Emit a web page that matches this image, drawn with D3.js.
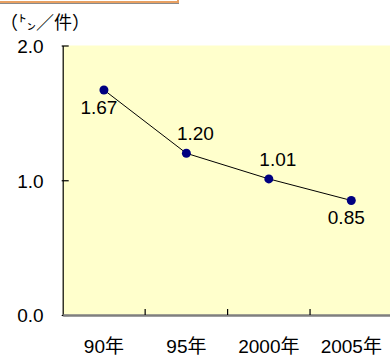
<!DOCTYPE html>
<html>
<head>
<meta charset="utf-8">
<script src="https://cdn.jsdelivr.net/npm/d3@7/dist/d3.min.js"></script>
<style>
  html, body { margin: 0; padding: 0; background: #fff; }
  svg { display: block; }
  text { font-family: "Liberation Sans", Arial, "Noto Sans CJK JP", sans-serif; fill: #000; }
</style>
</head>
<body>
<svg id="chart" width="390" height="358"></svg>
<script>
// Average tonnage per case, by year
const years = ["90年", "95年", "2000年", "2005年"];
const tonsPerCase = [1.67, 1.20, 1.01, 0.85];
const yTicks = [0.0, 1.0, 2.0];
const labelPlacement = ["below", "above", "above", "below"];
const unitLabel = "（㌧／件）";

const svg = d3.select("#chart");
const plot = { left: 62.7, right: 392.5, top: 45.5, bottom: 315 };

const x = d3.scaleBand().domain(years).range([plot.left, plot.right]).padding(0);
const y = d3.scaleLinear().domain([0, 2]).range([plot.bottom, plot.top]);

// Header box peeking in at the top edge
svg.append("rect")
  .attr("x", -3).attr("y", -12).attr("width", 181).attr("height", 14)
  .attr("fill", "#fff").attr("stroke", "#E8A062").attr("stroke-width", 2);
svg.append("line")
  .attr("x1", 0).attr("x2", 179).attr("y1", 3.5).attr("y2", 3.5)
  .attr("stroke", "#8a8a8a").attr("stroke-width", 1);

// Plot background
svg.append("rect")
  .attr("x", plot.left).attr("y", plot.top)
  .attr("width", plot.right - plot.left).attr("height", plot.bottom - plot.top)
  .attr("fill", "#FFFFCC");

// Unit label
svg.append("text")
  .attr("x", 0).attr("y", 29)
  .style("font-family", "'Noto Sans CJK JP', sans-serif")
  .style("font-size", "18px")
  .attr("fill", "#333")
  .text(unitLabel);

// Y axis
const yAxis = d3.axisLeft(y).tickValues(yTicks).tickSize(0).tickFormat(d3.format(".1f"));
const gy = svg.append("g").attr("transform", `translate(${plot.left},0)`).call(yAxis);
gy.select(".domain").attr("stroke", "#000").attr("stroke-width", 1.2);
gy.selectAll(".tick text")
  .attr("x", -19).attr("dy", "0.36em")
  .style("font-size", "19px").style("font-family", "'Liberation Sans', Arial, sans-serif");
gy.selectAll(".tick").append("line")
  .attr("x1", -1).attr("x2", 6).attr("stroke", "#000").attr("stroke-width", 1.2);

// X axis
const xAxis = d3.axisBottom(x).tickSize(0);
const gx = svg.append("g").attr("transform", `translate(0,${plot.bottom})`).call(xAxis);
gx.select(".domain").attr("stroke", "#7f7f7f").attr("stroke-width", 2.4);
gx.selectAll(".tick text")
  .attr("y", 38).attr("dy", 0)
  .style("font-size", "19px")
  .style("font-family", "'Liberation Sans', Arial, 'Noto Sans CJK JP', sans-serif");

// Category boundary ticks pointing into the plot
svg.append("g").selectAll("line")
  .data(years.slice(1))
  .join("line")
  .attr("x1", d => x(d)).attr("x2", d => x(d))
  .attr("y1", plot.bottom - 6).attr("y2", plot.bottom)
  .attr("stroke", "#000").attr("stroke-width", 1.2);

const cx = d => x(d) + x.bandwidth() / 2;
const pts = years.map((yr, i) => ({ yr, v: tonsPerCase[i], place: labelPlacement[i] }));

// Trend line
svg.append("path")
  .datum(pts)
  .attr("fill", "none").attr("stroke", "#000").attr("stroke-width", 1)
  .attr("d", d3.line().x(d => cx(d.yr)).y(d => y(d.v)));

// Markers
svg.append("g").selectAll("circle")
  .data(pts)
  .join("circle")
  .attr("cx", d => cx(d.yr)).attr("cy", d => y(d.v))
  .attr("r", 4.5).attr("fill", "#000080");

// Value labels
svg.append("g").selectAll("text")
  .data(pts)
  .join("text")
  .attr("x", d => cx(d.yr) + (d.place === "below" ? -5 : 9))
  .attr("y", d => y(d.v) + (d.place === "below" ? 24 : -13))
  .attr("text-anchor", "middle")
  .style("font-size", "19px")
  .text(d => d.v.toFixed(2));
</script>
</body>
</html>
